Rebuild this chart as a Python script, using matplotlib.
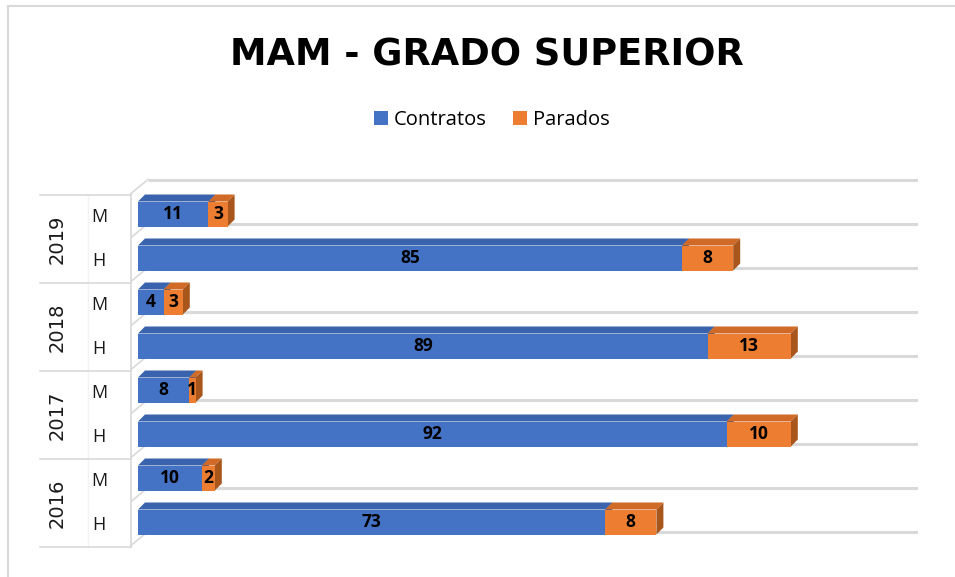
import matplotlib.pyplot as plt
from matplotlib.patches import Polygon, Rectangle, Patch
from matplotlib.lines import Line2D

plt.rcParams['font.family'] = ['Open Sans', 'DejaVu Sans']

# rows from top to bottom
years = ['2019', '2018', '2017', '2016']
sexes = ['M', 'H']
contratos = [11, 85, 4, 89, 8, 92, 10, 73]
parados = [3, 8, 3, 13, 1, 10, 2, 8]

BLUE = '#4472C4'
ORANGE = '#ED7D31'
BLUE_TOP = '#3A63AE'
BLUE_SIDE = '#2F5597'
ORANGE_TOP = '#D06A26'
ORANGE_SIDE = '#A9561D'
GRID = '#D9D9D9'

W, H = 955, 577
fig = plt.figure(figsize=(W / 100, H / 100), dpi=100)

# plot area in pixels: value 0 at x=138, 6.4 px per unit; row pitch 44 px
px_left, px_right = 138, 918
px_bottom, px_top = 560, 170
ax = fig.add_axes([px_left / W, 1 - px_bottom / H,
                   (px_right - px_left) / W, (px_bottom - px_top) / H])
xscale = 6.4
yscale = 44.0
ax.set_xlim(0, (px_right - px_left) / xscale)
ax.set_ylim((522 - px_bottom) / yscale, (522 - px_top) / yscale)
ax.axis('off')

def ux(px):
    return px / xscale

def uy(px):
    return px / yscale

n = len(contratos)
ypos = [n - 1 - i for i in range(n)]

# floor / gridlines (back plane)
back_dx, back_dy = ux(10), uy(12)
for k in range(n + 1):
    yb = (n - 0.5 - k) + back_dy + uy(0.5)
    ax.plot([back_dx, ax.get_xlim()[1]], [yb, yb], color=GRID, lw=2.2,
            solid_capstyle='butt', zorder=1)
    ax.plot([ux(-7), back_dx], [yb - uy(14), yb], color=GRID, lw=1.2,
            zorder=1, clip_on=False)

# category axis: vertical line and group separators
x_axis = ux(-7)
y_top = (522 - 195) / yscale
y_bot = (522 - 547) / yscale
ax.plot([x_axis, x_axis], [y_bot, y_top], color=GRID, lw=1.2, clip_on=False)
ax.plot([ux(88 - 138)] * 2, [y_bot, y_top], color='#F3F3F3', lw=1.0, clip_on=False)
for j in range(len(years) + 1):
    yy = y_top - 2 * j
    ax.plot([ux(40 - 138), x_axis], [yy, yy], color=GRID, lw=1.2, clip_on=False)

# bars with a simple 3D look
bh = uy(25)
ddx, ddy = ux(7), uy(7)

def bar3d(x0, width, y, front, top, side):
    x1 = x0 + width
    yb, yt = y - bh / 2, y + bh / 2
    ax.add_patch(Polygon([(x0, yt), (x1, yt), (x1 + ddx, yt + ddy), (x0 + ddx, yt + ddy)],
                         closed=True, facecolor=top, edgecolor='none', zorder=3))
    ax.add_patch(Polygon([(x1, yb), (x1 + ddx, yb + ddy), (x1 + ddx, yt + ddy), (x1, yt)],
                         closed=True, facecolor=side, edgecolor='none', zorder=3))
    ax.add_patch(Rectangle((x0, yb), width, bh, facecolor=front, edgecolor='none', zorder=4))

for y, c, p in zip(ypos, contratos, parados):
    bar3d(0, c, y, BLUE, BLUE_TOP, BLUE_SIDE)
    bar3d(c, p, y, ORANGE, ORANGE_TOP, ORANGE_SIDE)
    ax.text(c / 2, y, str(c), ha='center', va='center', fontsize=12.5,
            fontweight='bold', color='black', zorder=5)
    ax.text(c + p / 2, y, str(p), ha='center', va='center', fontsize=12.5,
            fontweight='bold', color='black', zorder=5)

# category labels
for i, y in enumerate(ypos):
    ax.text(ux(99 - 138), y - uy(3), sexes[i % 2], ha='center', va='center',
            fontsize=13, color='#1a1a1a', clip_on=False)
for j, yr in enumerate(years):
    yc = y_top - 1 - 2 * j
    ax.text(ux(57 - 138), yc, yr, ha='center', va='center', rotation=90,
            fontsize=14, family='DejaVu Sans', color='#1a1a1a', clip_on=False)

# title and legend
fig.text(487 / W, 1 - 55 / H, 'MAM - GRADO SUPERIOR', ha='center', va='center',
         fontsize=26.5, fontweight='bold', family='DejaVu Sans', color='black')
handles = [Patch(facecolor=BLUE, edgecolor='none', label='Contratos'),
           Patch(facecolor=ORANGE, edgecolor='none', label='Parados')]
fig.legend(handles=handles, loc='center', bbox_to_anchor=(492 / W, 1 - 120 / H),
           ncol=2, frameon=False, fontsize=14.5, handlelength=0.7, handleheight=0.7,
           handletextpad=0.3, columnspacing=1.3)

# chart border (left and top edges visible)
fig.add_artist(Line2D([8 / W, 8 / W], [0, 1 - 6 / H], color=GRID, lw=1.5))
fig.add_artist(Line2D([8 / W, 1], [1 - 6 / H, 1 - 6 / H], color=GRID, lw=1.5))

fig.savefig('out.png', dpi=100)
